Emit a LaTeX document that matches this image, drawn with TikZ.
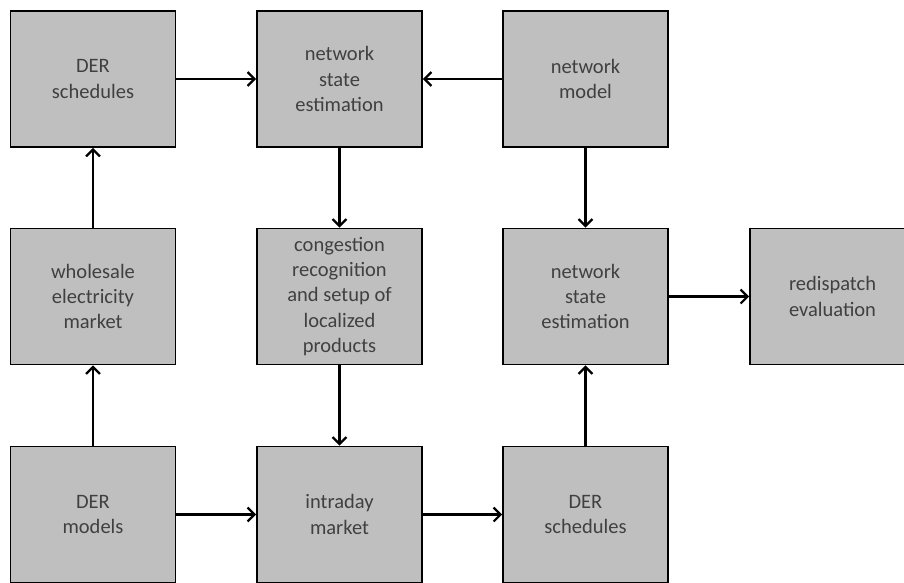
\documentclass[tikz,border=0pt]{standalone}
\usepackage{fontspec}
\setmainfont{Carlito}
\usetikzlibrary{arrows.meta}

\begin{document}
\begin{tikzpicture}[x=1pt,y=-1pt,
  bloc/.style={draw=black, line width=1.8pt, fill=black!25,
    minimum width=165pt, minimum height=136pt, align=center,
    text=black!75, font=\fontsize{20.5}{25.4}\selectfont},
  fleche/.style={-{Straight Barb[length=7pt,width=14pt]}, line width=2.2pt}]

% Cadre de la page
  \useasboundingbox (0,0) rectangle (904,583);
  \clip (0,0) rectangle (904,583);

% Colonnes et lignes
  \def\ca{93}; \def\cb{339.5}; \def\cc{585.5}; \def\cd{832.5};
  \def\la{79}; \def\lb{296.5}; \def\lc{514.5};

% Ligne du haut
  \node[bloc] (dersched) at (\ca,\la) {DER\\schedules};
  \node[bloc] (nse) at (\cb,\la) {network\\state\\estimation};
  \node[bloc] (netmodel) at (\cc,\la) {network\\model};

% Ligne du milieu
  \node[bloc] (wholesale) at (\ca,\lb) {wholesale\\electricity\\market};
  \node[bloc] (congestion) at (\cb,\lb) {congestion\\recognition\\and setup of\\localized\\products};
  \node[bloc] (nsebis) at (\cc,\lb) {network\\state\\estimation};
  \node[bloc] (redispatch) at (\cd,\lb) {redispatch\\evaluation};

% Ligne du bas
  \node[bloc] (dermodels) at (\ca,\lc) {DER\\models};
  \node[bloc] (intraday) at (\cb,\lc) {intraday\\market};
  \node[bloc] (derschedbis) at (\cc,\lc) {DER\\schedules};

% Fleches
  \draw[fleche] (dersched) -- (nse);
  \draw[fleche] (netmodel) -- (nse);
  \draw[fleche] (wholesale) -- (dersched);
  \draw[fleche] (dermodels) -- (wholesale);
  \draw[fleche] (nse) -- (congestion);
  \draw[fleche] (congestion) -- (intraday);
  \draw[fleche] (netmodel) -- (nsebis);
  \draw[fleche] (nsebis) -- (redispatch);
  \draw[fleche] (dermodels) -- (intraday);
  \draw[fleche] (intraday) -- (derschedbis);
  \draw[fleche] (derschedbis) -- (nsebis);

\end{tikzpicture}
\end{document}
